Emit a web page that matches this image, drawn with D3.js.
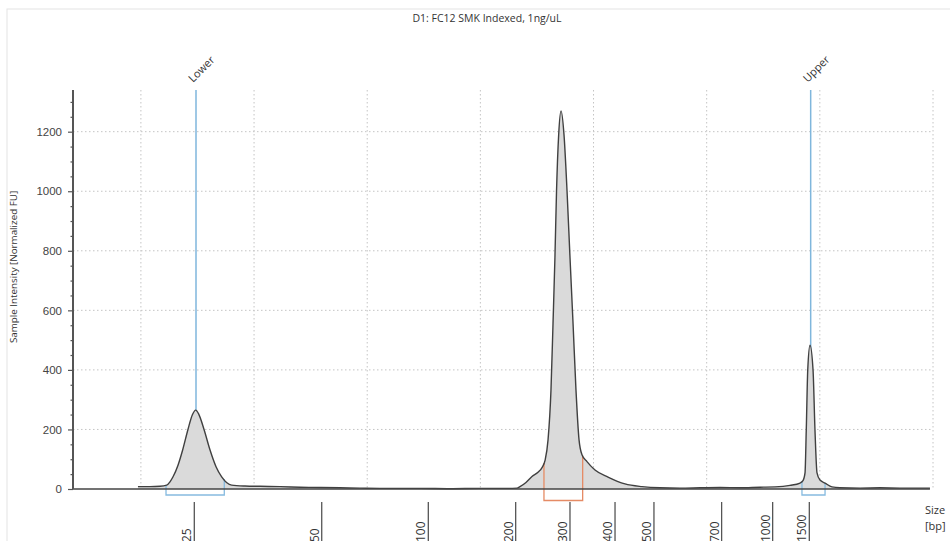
<!DOCTYPE html>
<html>
<head>
<meta charset="utf-8">
<script src="https://cdn.jsdelivr.net/npm/d3@7"></script>
<style>
  body { margin: 0; background: #fff; }
  text { font-family: "Open Sans", "Noto Sans", sans-serif; fill: #333; }
  .ytick text { font-family: "Liberation Sans", Arial, sans-serif; font-size: 11.5px; fill: #444; }
</style>
</head>
<body>
<div id="chart"></div>
<script>
const TITLE = "D1: FC12 SMK Indexed, 1ng/uL";
const Y_LABEL = "Sample Intensity [Normalized FU]";

// trace: migration position (run units) and intensity (normalized FU)
const tracePos = [57.4, 68.0, 76.9, 82.8, 85.7, 88.4, 92.8, 96.9, 101.6, 105.6, 108.4, 111.3, 115.8, 121.1,
  126.4, 131.4, 140.2, 152.0, 165.3, 182.9, 200.6, 218.3, 236.0, 253.6, 280.1, 306.6, 333.2, 359.7,
  381.8, 392.4, 395.0, 400.3, 405.6, 410.9, 414.5, 417.1, 419.8, 422.4, 424.2, 425.9, 427.3, 429.2,
  431.3, 433.9, 436.6, 439.2, 441.9, 444.5, 447.2, 449.8, 454.2, 461.3, 472.8, 487.8, 502.8, 518.7,
  536.4, 554.1, 571.8, 589.4, 607.1, 620.4, 633.6, 642.5, 645.1, 646.9, 648.0, 649.3, 651.3, 654.0,
  655.7, 657.5, 660.1, 664.6, 670.7, 677.8, 695.5, 713.2, 730.8, 757.3];
const traceFU = [8, 8, 9, 13, 24, 41, 80, 131, 200, 250, 265, 250, 200, 131,
  75, 41, 13, 10, 9, 8, 6, 5, 4, 3, 2, 2, 1, 2,
  2, 3, 8, 22, 42, 56, 72, 95, 165, 332, 556, 778, 1000, 1190,
  1270, 1190, 1000, 778, 556, 332, 165, 115, 92, 64, 40, 17, 8, 4,
  3, 4, 5, 4, 6, 7, 12, 20, 28, 54, 198, 399, 483, 399,
  198, 54, 30, 20, 7, 4, 3, 4, 3, 3];

// sizing ladder (bp) and where each size sits on the run axis
const ladderSizes = [25, 50, 100, 200, 300, 400, 500, 700, 1000, 1500];
const ladderPos = [107.2, 219.8, 314.0, 391.2, 439.2, 479.0, 513.4, 573.2, 618.3, 650.7];

const markerNames = ["Lower", "Upper"];
const markerPos = [108.7, 651.9];

// integration regions
const regionStart = [82.2, 416.2, 644.2];
const regionEnd = [133.7, 450.4, 664.6];
const regionKind = ["marker", "peak", "marker"];

const yMajor = [0, 200, 400, 600, 800, 1000, 1200];

const W = 950, H = 541;
const svg = d3.select("#chart").append("svg")
  .attr("width", W)
  .attr("height", H);

const x = d3.scaleLinear().domain([0, 760]).range([73, 933]);
const y = d3.scaleLinear().domain([0, 1340]).range([489, 90]);

// faint panel frame
svg.append("rect")
  .attr("x", 7).attr("y", 9)
  .attr("width", W).attr("height", H)
  .attr("fill", "none")
  .attr("stroke", "#e4e4e4");

svg.append("text")
  .attr("x", 487).attr("y", 22)
  .attr("text-anchor", "middle")
  .style("font-size", "10.5px")
  .text(TITLE);

// dotted grid
const grid = svg.append("g")
  .attr("stroke", "#c4c4c4")
  .attr("stroke-dasharray", "1.5,2.5");

grid.selectAll("line.v")
  .data(d3.range(60, 761, 100))
  .enter().append("line")
  .attr("x1", d => x(d)).attr("x2", d => x(d))
  .attr("y1", y.range()[1]).attr("y2", y(0));

grid.selectAll("line.h")
  .data(yMajor.slice(1))
  .enter().append("line")
  .attr("x1", x(0)).attr("x2", x(760))
  .attr("y1", d => y(d)).attr("y2", d => y(d));

// marker lines (behind the fill)
svg.selectAll("line.marker")
  .data(markerPos)
  .enter().append("line")
  .attr("x1", d => x(d)).attr("x2", d => x(d))
  .attr("y1", y.range()[1]).attr("y2", y(0))
  .attr("stroke", "#7fb6dc")
  .attr("stroke-width", 1.5);

svg.selectAll("text.marker")
  .data(markerNames)
  .enter().append("text")
  .attr("transform", (d, i) => `translate(${x(markerPos[i]) - 3},83) rotate(-45)`)
  .style("font-size", "11px")
  .text(d => d);

const trace = tracePos.map((p, i) => ({ p, v: traceFU[i] }));

const area = d3.area()
  .x(d => x(d.p))
  .y0(y(0))
  .y1(d => y(d.v))
  .curve(d3.curveMonotoneX);

const line = d3.line()
  .x(d => x(d.p))
  .y(d => y(d.v))
  .curve(d3.curveMonotoneX);

svg.append("path")
  .attr("d", area(trace))
  .attr("fill", "#dadada");

// value of the trace at a run position (for region box edges)
const valueAt = p => {
  const i = d3.bisector(d => d.p).left(trace, p);
  if (i <= 0 || i >= trace.length) return 0;
  const a = trace[i - 1], b = trace[i];
  return a.v + (b.v - a.v) * (p - a.p) / (b.p - a.p);
};

svg.selectAll("path.region")
  .data(regionStart)
  .enter().append("path")
  .attr("d", (d, i) => {
    const bottom = y(0) + (regionKind[i] === "peak" ? 11.5 : 6);
    const x1 = x(d), x2 = x(regionEnd[i]);
    return `M${x1},${y(valueAt(d))}V${bottom}H${x2}V${y(valueAt(regionEnd[i]))}`;
  })
  .attr("fill", "none")
  .attr("stroke", (d, i) => regionKind[i] === "peak" ? "#e58b65" : "#86bbe0")
  .attr("stroke-width", 1.3);

svg.append("path")
  .attr("d", line(trace))
  .attr("fill", "none")
  .attr("stroke", "#404040")
  .attr("stroke-width", 1.4);

// baseline
svg.append("line")
  .attr("x1", x(0)).attr("x2", x(757.3))
  .attr("y1", y(0)).attr("y2", y(0))
  .attr("stroke", "#444")
  .attr("stroke-width", 1.6);

// y axis
const yAxis = svg.append("g")
  .attr("class", "ytick")
  .attr("transform", `translate(${x(0)},0)`)
  .call(d3.axisLeft(y).tickValues(yMajor).tickFormat(d3.format("d"))
    .tickSize(5).tickSizeOuter(0).tickPadding(6));
yAxis.select(".domain").remove();
yAxis.selectAll(".tick line").attr("stroke", "#555").attr("stroke-width", 1.2);

const yMinor = svg.append("g")
  .attr("transform", `translate(${x(0)},0)`)
  .call(d3.axisLeft(y)
    .tickValues(d3.range(50, 1340, 50).filter(v => v % 200 !== 0))
    .tickSize(2.5).tickSizeOuter(0).tickFormat(""));
yMinor.select(".domain").remove();
yMinor.selectAll(".tick line").attr("stroke", "#555").attr("stroke-width", 1.2);

svg.append("line")
  .attr("x1", x(0)).attr("x2", x(0))
  .attr("y1", y.range()[1]).attr("y2", y(0))
  .attr("stroke", "#555")
  .attr("stroke-width", 2);

svg.append("text")
  .attr("transform", "translate(17,267) rotate(-90)")
  .attr("text-anchor", "middle")
  .style("font-size", "9.8px")
  .text(Y_LABEL);

// bp ladder axis
const ladder = svg.append("g");
ladder.selectAll("line")
  .data(ladderPos)
  .enter().append("line")
  .attr("x1", d => x(d)).attr("x2", d => x(d))
  .attr("y1", 502).attr("y2", 545)
  .attr("stroke", "#555")
  .attr("stroke-width", 1.3);

ladder.selectAll("text")
  .data(ladderSizes)
  .enter().append("text")
  .attr("transform", (d, i) => `translate(${x(ladderPos[i]) - 3},542) rotate(-90)`)
  .style("font-size", "12px")
  .text(d => d);

svg.append("text")
  .attr("x", 925).attr("y", 514)
  .style("font-size", "11px")
  .text("Size");
svg.append("text")
  .attr("x", 925).attr("y", 530)
  .style("font-size", "11px")
  .text("[bp]");
</script>
</body>
</html>
